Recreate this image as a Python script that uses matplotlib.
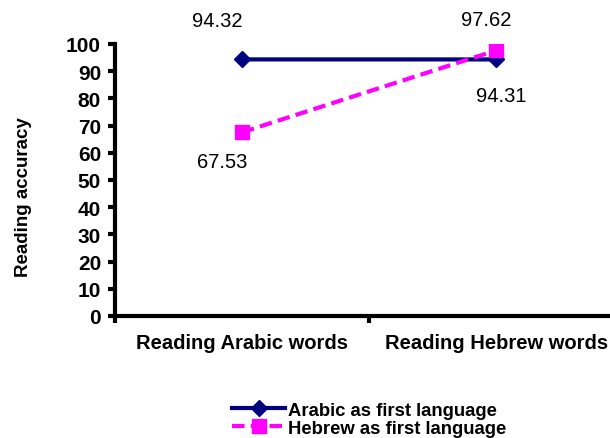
import matplotlib
matplotlib.use("Agg")
import matplotlib.pyplot as plt

categories = ["Reading Arabic words", "Reading Hebrew words"]
arabic_first = [94.32, 94.31]
hebrew_first = [67.53, 97.62]
series_names = ["Arabic as first language", "Hebrew as first language"]
y_ticks = list(range(0, 101, 10))

plt.rcParams["font.family"] = ["Liberation Sans", "DejaVu Sans"]

fig = plt.figure(figsize=(6.10, 4.39), dpi=100)
ax = fig.add_axes([0.1885, 0.278, 0.833, 0.6196])

xs = [0.5, 1.5]
l1, = ax.plot(xs, arabic_first, color="#000080", lw=3, marker="D", ms=8,
              label=series_names[0], zorder=3)
l2, = ax.plot(xs, hebrew_first, color="#FF00FF", lw=3, ls=(0, (3, 1.5)),
              marker="s", ms=10, label=series_names[1], zorder=4)

# value labels next to each point
label_offsets = {
    (0, 0): (-18, 28), (0, 1): (4, -26),
    (1, 0): (-14, -21), (1, 1): (-7, 22),
}
for si, vals in enumerate([arabic_first, hebrew_first]):
    for ci, v in enumerate(vals):
        ax.annotate(f"{v:.2f}", (xs[ci], v), xytext=label_offsets[(si, ci)],
                    textcoords="offset points", ha="center", va="center",
                    fontsize=14.5)

ax.set_xlim(0, 2)
ax.set_ylim(0, 100)
ax.set_yticks(y_ticks)
ax.set_yticklabels([str(t) for t in y_ticks], fontsize=15, fontweight="bold")
ax.set_xticks([0, 1, 2])
ax.set_xticklabels([])
ax.set_xticks(xs, minor=True)
ax.set_xticklabels(categories, minor=True, fontsize=14.5, fontweight="bold")
ax.tick_params(axis="x", which="minor", length=0, pad=12)
ax.tick_params(axis="x", which="major", length=5, width=3, direction="out")
ax.tick_params(axis="y", length=5, width=3, direction="out", pad=5)
ax.set_ylabel("Reading accuracy", fontsize=13.5, fontweight="bold")
ax.yaxis.set_label_coords(-0.163, 0.44)

for s in ["top", "right"]:
    ax.spines[s].set_visible(False)
for s in ["left", "bottom"]:
    ax.spines[s].set_linewidth(3)

leg = fig.legend(handles=[l1, l2], loc="center", bbox_to_anchor=(0.605, 0.043),
                 frameon=False, fontsize=13.3, handlelength=2.9,
                 handletextpad=0.15, labelspacing=0.05, borderpad=0)
for t in leg.get_texts():
    t.set_fontweight("bold")

fig.savefig("out.png", dpi=100)
